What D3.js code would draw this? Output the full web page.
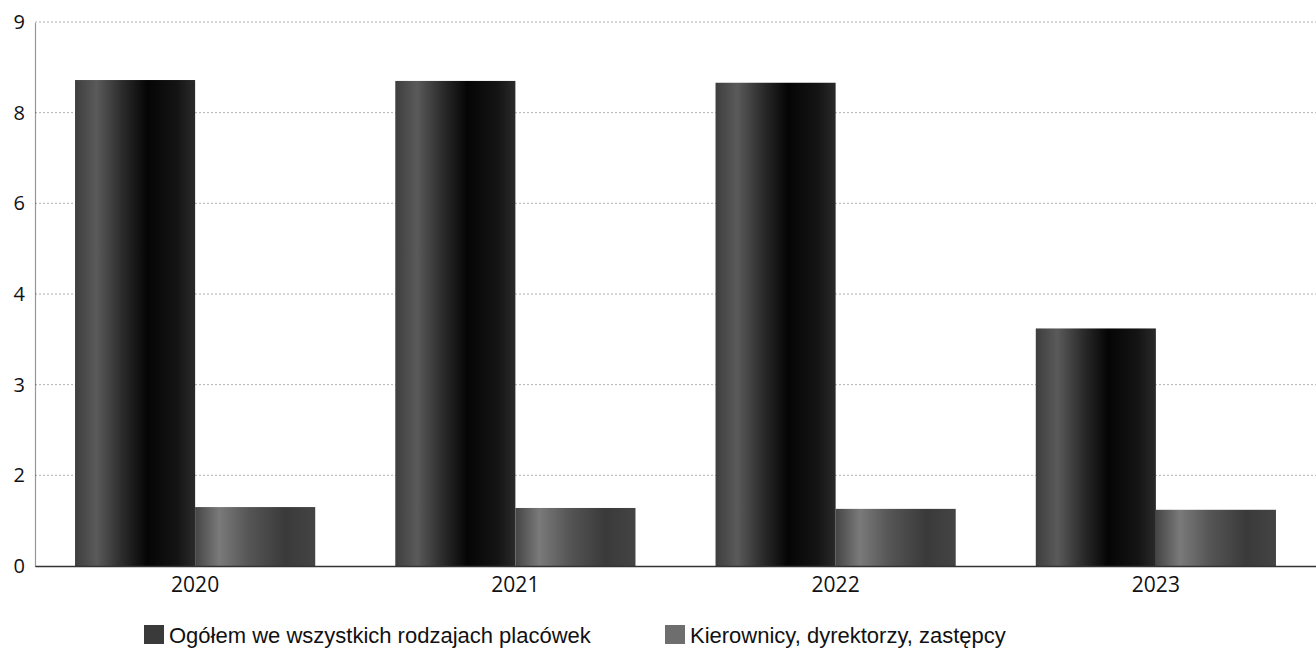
<!DOCTYPE html>
<html>
<head>
<meta charset="utf-8">
<script src="https://cdn.jsdelivr.net/npm/d3@7"></script>
<style>
  html, body { margin: 0; padding: 0; background: #fff; }
  svg { display: block; }
</style>
</head>
<body>
<svg id="chart" width="1316" height="649"></svg>
<script>
// ---- data ----
const years = ["2020", "2021", "2022", "2023"];
const seriesNames = ["Ogółem we wszystkich rodzajach placówek", "Kierownicy, dyrektorzy, zastępcy"];
const totalValues = [8.36, 8.35, 8.33, 3.62];
const managerValues = [1.30, 1.28, 1.26, 1.24];
const yTickLabels = [0, 2, 3, 4, 6, 8, 9];

(function () {
// ---- layout ----
const svg = d3.select("#chart");
const mLeft = 35, mRight = 1316, mTop = 22, mBottom = 566;

const x = d3.scaleBand().domain(years).range([mLeft, mRight]).paddingInner(0.25).paddingOuter(0.125);
const xs = d3.scaleBand().domain(seriesNames).range([0, x.bandwidth()]);
// axis labels are evenly spaced although their values are not
const y = d3.scaleLinear()
  .domain(yTickLabels)
  .range(yTickLabels.map((d, i) => mBottom - i * (mBottom - mTop) / (yTickLabels.length - 1)));

// gradients
const defs = svg.append("defs");
function grad(id, stops) {
  const g = defs.append("linearGradient").attr("id", id).attr("x1", "0%").attr("x2", "100%").attr("y1", "0%").attr("y2", "0%");
  stops.forEach(([o, c]) => g.append("stop").attr("offset", o).attr("stop-color", c));
}
grad("gDark", [["0%", "#3e3e3e"], ["18%", "#5a5a5a"], ["40%", "#2a2a2a"], ["60%", "#050505"], ["85%", "#141414"], ["100%", "#2a2a2a"]]);
grad("gGray", [["0%", "#454545"], ["20%", "#7a7a7a"], ["45%", "#555"], ["75%", "#3a3a3a"], ["100%", "#444"]]);
const fills = ["url(#gDark)", "url(#gGray)"];

// gridlines
svg.append("g").selectAll("line").data(yTickLabels.filter(d => d !== 0)).join("line")
  .attr("x1", mLeft).attr("x2", mRight)
  .attr("y1", d => y(d)).attr("y2", d => y(d))
  .attr("stroke", "#b0b0b0").attr("stroke-width", 1).attr("stroke-dasharray", "2,2");

// y axis
const yAxis = d3.axisLeft(y).tickValues(yTickLabels).tickSize(0).tickPadding(10).tickFormat(d3.format("d"));
const gy = svg.append("g").attr("transform", `translate(${mLeft},0)`).call(yAxis);
gy.select(".domain").attr("stroke", "#333").attr("stroke-width", 1.2).attr("stroke-dasharray", "1,1");
gy.selectAll("text").attr("font-family", "Open Sans, sans-serif").attr("font-size", 20).attr("fill", "#111");

// bars
const rows = years.map((yr, i) => ({ year: yr, vals: [totalValues[i], managerValues[i]] }));
const groups = svg.append("g").selectAll("g").data(rows).join("g")
  .attr("transform", d => `translate(${x(d.year)},0)`);
groups.selectAll("rect").data(d => d.vals.map((v, k) => ({ v, k }))).join("rect")
  .attr("x", d => xs(seriesNames[d.k]))
  .attr("width", xs.bandwidth())
  .attr("y", d => y(d.v))
  .attr("height", d => y(0) - y(d.v))
  .attr("fill", d => fills[d.k]);

// x axis
const xAxis = d3.axisBottom(x).tickSize(0).tickPadding(11);
const gx = svg.append("g").attr("transform", `translate(0,${mBottom})`).call(xAxis);
gx.select(".domain").attr("stroke", "#333").attr("stroke-width", 1.5);
gx.selectAll("text").attr("font-family", "Open Sans, sans-serif").attr("font-size", 21).attr("fill", "#111");

// legend
const legendX = [144, 665];
const legendColors = ["#3a3a3a", "#6e6e6e"];
const lg = svg.append("g").selectAll("g").data(seriesNames).join("g")
  .attr("transform", (d, i) => `translate(${legendX[i]},625)`);
lg.append("rect").attr("width", 20).attr("height", 19).attr("fill", (d, i) => legendColors[i]);
lg.append("text").attr("x", 25).attr("y", 18)
  .attr("font-family", "Liberation Sans, Arial, sans-serif").attr("font-size", 22).attr("fill", "#111")
  .text(d => d);
})();
</script>
</body>
</html>
